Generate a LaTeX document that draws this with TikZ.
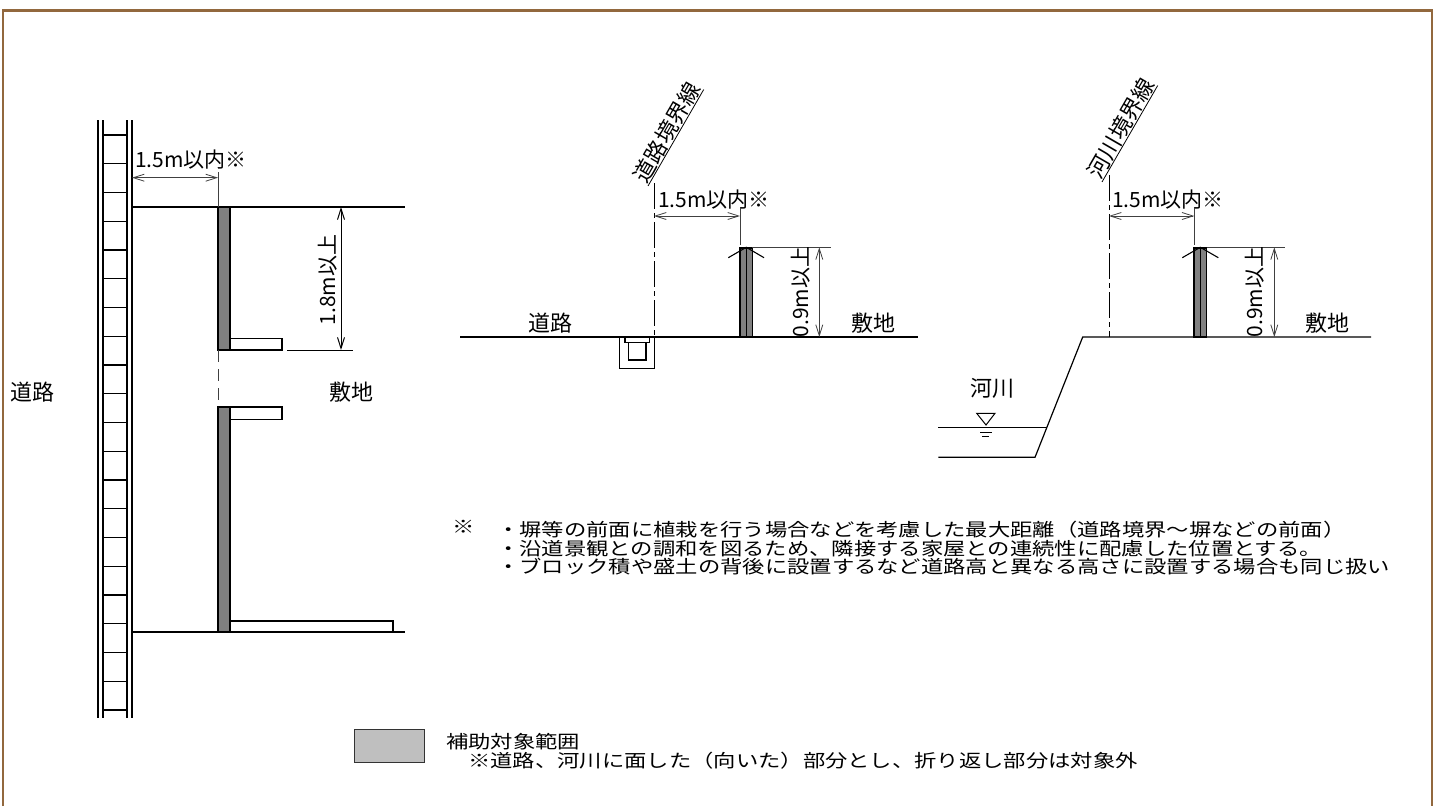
\documentclass[tikz,border=0pt]{standalone}
\usepackage{fontspec}
\usepackage{tikz}
\usetikzlibrary{arrows.meta}
\newfontfamily\jp{Noto Sans CJK JP}
\newfontfamily\jpw[FakeStretch=1.24]{Noto Sans CJK JP}
\definecolor{framebrown}{RGB}{146,104,62}
\tikzset{
  dimline/.style={black!75, line width=0.8pt, {Straight Barb[length=11pt,width=7pt]}-{Straight Barb[length=11pt,width=7pt]}},
  extline/.style={black!75, line width=0.8pt},
  wall/.style={fill=gray, draw=black, line width=1.1pt},
  bdline/.style={line width=1pt, dash pattern=on 26pt off 4pt on 5pt off 4pt},
  lbl/.style={font=\jp\fontsize{22}{22}\selectfont, inner sep=0.5pt},
  dimtxt/.style={font=\jp\fontsize{21}{21}\selectfont, inner sep=0pt},
  note/.style={font=\jpw\fontsize{18}{18}\selectfont, inner sep=0pt, anchor=west}
}
\begin{document}
\begin{tikzpicture}[x=1pt,y=-1pt]
\useasboundingbox (0,0) rectangle (1440,806);
% frame
\draw[framebrown, line width=2.5pt] (3,806) -- (3,10.5) -- (1432,10.5) -- (1432,806);

% ---- plan view
\foreach \x in {98,103,127,132}
  \draw[line width=1.1pt] (\x,120) -- (\x,718);
\foreach \i in {0,...,20}
  \draw[line width=1.1pt] (103,135+28.75*\i) -- (127,135+28.75*\i);
\draw[line width=2.5pt] (132,207) -- (405,207);
\draw[line width=2.5pt] (132,632) -- (405,632);
\draw[wall] (218,207) rectangle (230,350);
\draw[line width=1.1pt] (230,338.5) rectangle (282,350);
\draw[wall] (218,407) rectangle (230,632);
\draw[line width=1.1pt] (230,407) rectangle (282,419.3);
\draw[line width=1.1pt] (230,621) rectangle (393,632);
\draw[extline, dash pattern=on 12pt off 7pt] (218,350) -- (218,407);
% 1.5m
\coordinate (pa) at (132,177.7);
\coordinate (pb) at (218,177.7);
\draw[extline] (218,172) -- (218,207);
\draw[dimline] (pa) -- (pb);
\node[dimtxt, anchor=west] (pw) at (135,160) {1.5m以内※};
% 1.8m
\coordinate (ha) at (341,207);
\coordinate (hb) at (341,350);
\draw[extline, black] (287,350) -- (353,350);
\draw[dimline, black, line width=1pt] (ha) -- (hb);
\node[dimtxt, rotate=90] (ph) at (328,280) {1.8m以上};
\node[lbl] (psite) at (351,392) {敷地};
\node[lbl] (proad) at (32,392) {道路};

% ---- road section
\draw[line width=1.2pt] (460,337) -- (918,337);
\coordinate (rb) at (654,183);
\coordinate (rg) at (654,337);
\draw[bdline] (rb) -- (rg);
\draw[line width=1.1pt] (619.3,337) -- (619.3,368.3) -- (654.3,368.3) -- (654.3,337);
\draw[line width=1.1pt] (625,337) -- (625,342.7) -- (649.3,342.7) -- (649.3,337);
\draw[line width=1.1pt] (628.3,342.7) rectangle (646,360);
\node[lbl, rotate=60, anchor=south west] (rbl) at (648,186) {道路境界線};
\draw[line width=0.8pt] (rbl.south west) -- (rbl.south east);
\draw[extline] (740,207) -- (740,245);
\coordinate (ra) at (654,216);
\coordinate (rc) at (740,216);
\draw[dimline] (ra) -- (rc);
\node[dimtxt, anchor=west] (rw) at (658,200) {1.5m以内※};
\draw[wall] (740,248) rectangle (746.3,337);
\draw[wall] (746.3,248) rectangle (752.7,337);
\draw[line width=1.1pt] (728.3,257.7) -- (746.3,247.3) -- (764,257.7);
\draw[extline] (752,247.3) -- (830.7,247.3);
\coordinate (rh1) at (819.3,247.3);
\coordinate (rh2) at (819.3,337);
\draw[dimline] (rh1) -- (rh2);
\node[dimtxt, rotate=90] (rh) at (801,292) {0.9m以上};
\node[lbl] (rroad) at (550,323) {道路};
\node[lbl] (rsite) at (873,323) {敷地};

% ---- river section
\draw[line width=1.2pt] (938.3,457.3) -- (1035,457.3) -- (1082.7,337) -- (1371,337);
\draw[line width=1pt] (938.3,427.7) -- (1046.7,427.7);
\draw[line width=1pt] (976.7,413.3) -- (995,413.3) -- (986,425) -- cycle;
\draw[line width=0.9pt] (980,432.7) -- (991.7,432.7);
\draw[line width=0.9pt] (982,436.7) -- (989,436.7);
\node[lbl] (kriver) at (992,388) {河川};
\coordinate (kb) at (1109,175);
\coordinate (kg) at (1109,337);
\draw[bdline] (kb) -- (kg);
\node[lbl, rotate=60, anchor=south west] (kbl) at (1102,182) {河川境界線};
\draw[line width=0.8pt] (kbl.south west) -- (kbl.south east);
\draw[extline] (1194.3,207) -- (1194.3,245);
\coordinate (ka) at (1109,216);
\coordinate (kc) at (1194.3,216);
\draw[dimline] (ka) -- (kc);
\node[dimtxt, anchor=west] (kw) at (1112,200) {1.5m以内※};
\draw[wall] (1194,248) rectangle (1200.3,337);
\draw[wall] (1200.3,248) rectangle (1206.7,337);
\draw[line width=1.1pt] (1182.3,257.7) -- (1200.3,247.3) -- (1218.3,257.7);
\draw[extline] (1206.7,247.3) -- (1285,247.3);
\coordinate (kh1) at (1274.3,247.3);
\coordinate (kh2) at (1274.3,337);
\draw[dimline] (kh1) -- (kh2);
\node[dimtxt, rotate=90] (kh) at (1255,292) {0.9m以上};
\node[lbl] (ksite) at (1327,323) {敷地};

% ---- notes
\node[note] (mark) at (452,527) {※};
\node[note] (n1) at (497,530) {・塀等の前面に植栽を行う場合などを考慮した最大距離（道路境界～塀などの前面）};
\node[note] (n2) at (497,548.5) {・沿道景観との調和を図るため、隣接する家屋との連続性に配慮した位置とする。};
\node[note] (n3) at (497,567) {・ブロック積や盛土の背後に設置するなど道路高と異なる高さに設置する場合も同じ扱い};

% ---- legend
\draw[fill=gray!50, draw=black!80, line width=1pt] (354,729.3) rectangle (424.3,762.3);
\node[note] (l1) at (446,742) {補助対象範囲};
\node[note] (l2) at (468,760.5) {※道路、河川に面した（向いた）部分とし、折り返し部分は対象外};
\end{tikzpicture}
\end{document}
